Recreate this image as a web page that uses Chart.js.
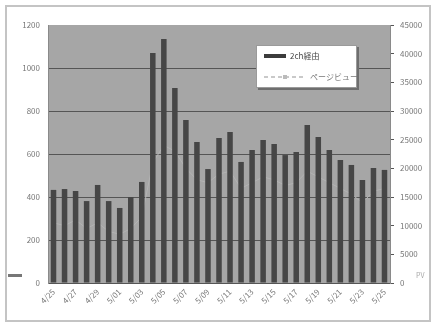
<!DOCTYPE html>
<html>
<head>
<meta charset="utf-8">
<script src="https://cdn.jsdelivr.net/npm/chart.js@4/dist/chart.umd.min.js"></script>
<style>
html,body{margin:0;padding:0;background:#fff;}
#wrap{width:434px;height:325px;position:relative;}
canvas{display:block;}
</style>
</head>
<body>
<div id="wrap"><canvas id="c" width="434" height="325"></canvas></div>
<script>
// ---- data ----
const categories = ["4/25","4/26","4/27","4/28","4/29","4/30","5/01","5/02","5/03","5/04","5/05","5/06","5/07","5/08","5/09","5/10","5/11","5/12","5/13","5/14","5/15","5/16","5/17","5/18","5/19","5/20","5/21","5/22","5/23","5/24","5/25"];
const via2ch = [433,437,428,381,456,381,349,400,470,1070,1135,907,758,656,530,674,702,563,619,665,647,595,609,735,679,619,572,549,479,535,526];
const pageViews = [10500,10000,11000,9500,10500,9000,8500,9500,11500,21000,24000,23000,20000,18000,17500,19000,19500,16500,17500,18500,18000,17000,17500,19500,18500,17500,16500,15500,14000,16000,16500];
const leftTicks = [0,200,400,600,800,1000,1200];
const rightTicks = [0,5000,10000,15000,20000,25000,30000,35000,40000,45000];
const seriesNames = ["2ch経由","ページビュー"];

const FONT = "'Noto Sans CJK JP', 'DejaVu Sans', sans-serif";

const decor = {
  id:'decor',
  beforeDraw(chart){
    const ctx = chart.ctx, a = chart.chartArea;
    ctx.save();
    ctx.fillStyle = '#fff';
    ctx.fillRect(0,0,chart.width,chart.height);
    ctx.strokeStyle = '#c4c4c4';
    ctx.lineWidth = 2;
    ctx.strokeRect(6,6,chart.width-10,chart.height-10);
    ctx.fillStyle = '#a6a6a6';
    ctx.fillRect(a.left,a.top,a.right-a.left,a.bottom-a.top);
    ctx.restore();
  },
  afterDraw(chart){
    const ctx = chart.ctx;
    ctx.save();
    // legend box
    const bx=256, by=45, bw=101, bh=43;
    ctx.fillStyle='#6e6e6e';
    ctx.fillRect(bx+2,by+2,bw,bh);
    ctx.fillStyle='#fff';
    ctx.fillRect(bx,by,bw,bh);
    ctx.strokeStyle='#9a9a9a';
    ctx.lineWidth=1;
    ctx.strokeRect(bx+0.5,by+0.5,bw-1,bh-1);
    // item 1
    ctx.fillStyle='#3c3c3c';
    ctx.fillRect(264,54,22,4);
    ctx.fillStyle='#444';
    ctx.font = "8px " + FONT;
    ctx.textBaseline='middle';
    ctx.fillText(seriesNames[0],290,56);
    // item 2
    ctx.strokeStyle='#b8b8b8';
    ctx.lineWidth=1.5;
    ctx.setLineDash([4,3]);
    ctx.beginPath();ctx.moveTo(264,77);ctx.lineTo(306,77);ctx.stroke();
    ctx.setLineDash([]);
    ctx.fillStyle='#bbb';
    ctx.fillRect(283,75,4,4);
    ctx.fillStyle='#777';
    ctx.fillText(seriesNames[1],310,77);
    // small marks
    ctx.fillStyle='#777';
    ctx.fillRect(8,274,14,3);
    ctx.fillStyle='#aaa';
    ctx.font = "7px " + FONT;
    ctx.fillText('PV',416,275);
    ctx.restore();
  }
};

new Chart(document.getElementById('c'), {
  data:{
    labels: categories,
    datasets:[
      {
        type:'bar',
        label: seriesNames[0],
        data: via2ch,
        yAxisID:'y',
        backgroundColor:'#464646',
        borderWidth:0,
        barPercentage:0.5,
        categoryPercentage:1.0,
        order:1
      },
      {
        type:'line',
        label: seriesNames[1],
        data: pageViews,
        yAxisID:'y2',
        borderColor:'#b3b3b3',
        backgroundColor:'#b6b6b6',
        borderWidth:1,
        pointRadius:1,
        pointStyle:'rect',
        tension:0,
        order:2
      }
    ]
  },
  options:{
    responsive:false,
    animation:false,
    devicePixelRatio:1,
    layout:{padding:{top:25,left:0,right:0,bottom:0}},
    plugins:{legend:{display:false},tooltip:{enabled:false}},
    scales:{
      x:{
        grid:{display:false,drawTicks:false},
        border:{display:true,color:'#555'},
        ticks:{
          autoSkip:false,
          maxRotation:45,minRotation:45,
          padding:4,
          color:'#777',
          font:{size:8,family:FONT},
          callback:function(v,i){return i%2===0 ? categories[i] : '';}
        },
        afterFit(s){s.height=42;}
      },
      y:{
        position:'left',
        min:0,max:1200,
        afterBuildTicks(s){s.ticks = leftTicks.map(v=>({value:v}));},
        grid:{
          color:(c)=> (c.tick && c.tick.value===1200) ? 'rgba(0,0,0,0)' : '#555',
          lineWidth:1,
          drawTicks:false
        },
        border:{display:true,color:'#8a8a8a'},
        ticks:{color:'#777',padding:8,font:{size:8,family:FONT},callback:(v)=>String(v)},
        afterFit(s){s.width=48;}
      },
      y2:{
        position:'right',
        min:0,max:45000,
        afterBuildTicks(s){s.ticks = rightTicks.map(v=>({value:v}));},
        grid:{drawOnChartArea:false,drawTicks:true,tickLength:4,color:'#555'},
        border:{display:true,color:'#8a8a8a'},
        ticks:{color:'#777',padding:6,font:{size:8,family:FONT},callback:(v)=>String(v)},
        afterFit(s){s.width=44;}
      }
    }
  },
  plugins:[decor]
});
</script>
</body>
</html>
